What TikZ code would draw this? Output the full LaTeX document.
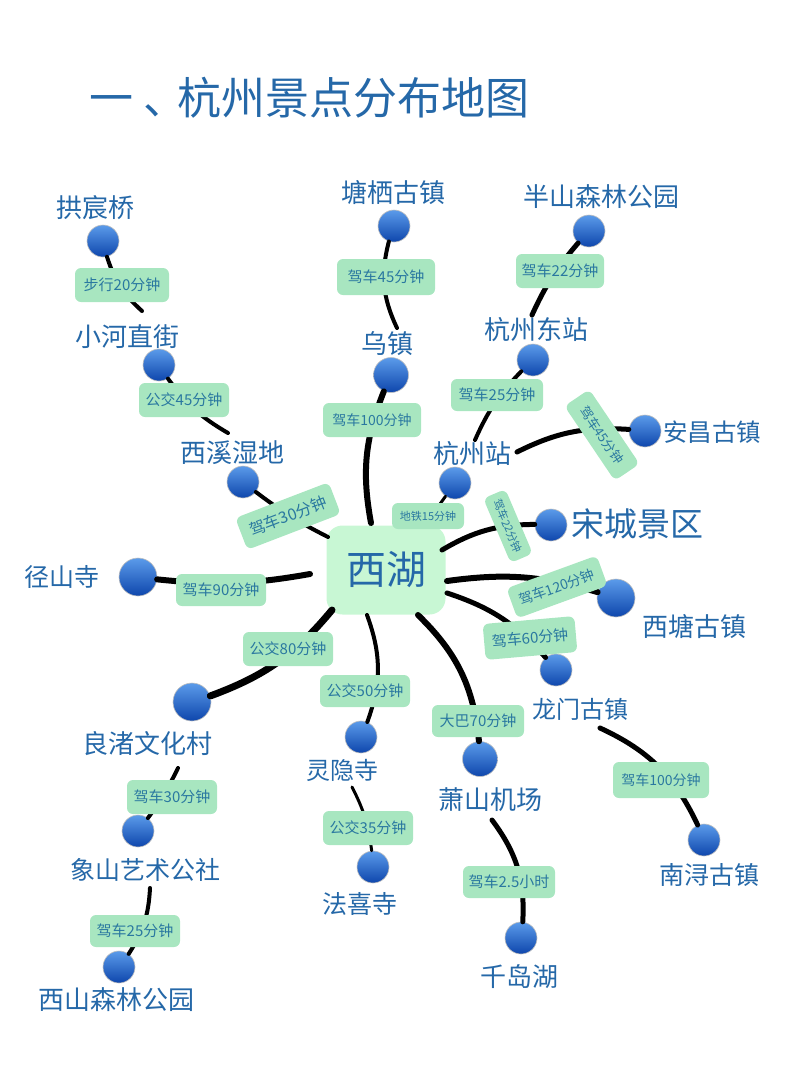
\documentclass[tikz,border=0pt]{standalone}
\usepackage{fontspec}
\setmainfont{Noto Sans CJK SC}
\definecolor{inkblue}{HTML}{2568A8}
\definecolor{boxgreen}{HTML}{A8E6C0}
\definecolor{hubgreen}{HTML}{C8F7D4}
\definecolor{boxink}{HTML}{2A78A0}
\definecolor{balltop}{HTML}{5B9BEA}
\definecolor{ballmid}{HTML}{1A62D6}
\definecolor{ballbot}{HTML}{0E46AC}
\tikzset{
  stop/.style={shape=circle,draw=black!25,line width=0.6pt,inner sep=0pt,minimum size=32pt,
    top color=balltop,middle color=ballmid,bottom color=ballbot},
  bigstop/.style={stop,minimum size=38pt},
  place/.style={font=\fontsize{26}{26}\selectfont,text=inkblue,inner sep=0pt},
  timebox/.style={shape=rectangle,rounded corners=6pt,fill=boxgreen,text=boxink,inner sep=0pt,
    minimum width=92pt,minimum height=34pt,font=\fontsize{15}{15}\selectfont},
  road/.style={draw=black,line width=5pt,line cap=round}
}
\begin{document}
\begin{tikzpicture}[x=1pt,y=-1pt]
    \useasboundingbox (0,0) rectangle (800,1066);
    \node[font=\fontsize{44}{44}\selectfont,text=inkblue,inner sep=0pt] (title) at (309.5,98) {一\hspace{10pt}、\hspace{-10pt}杭州景点分布地图};
    % centre
    \node[shape=rectangle,rounded corners=16pt,fill=hubgreen,text=inkblue,minimum width=119pt,minimum height=89pt,
      inner sep=0pt,font=\fontsize{40}{40}\selectfont] (hub) at (386,570) {西湖};
    % names
    \node[place] (gongchen label) at (95,208) {拱宸桥};
    \node[place] (xiaohe label) at (127,337) {小河直街};
    \node[place] (xixi label) at (232,453) {西溪湿地};
    \node[place] (tangqi label) at (393,193) {塘栖古镇};
    \node[place] (wuzhen label) at (387,344) {乌镇};
    \node[place] (banshan label) at (601,197) {半山森林公园};
    \node[place] (hzeast label) at (536,330) {杭州东站};
    \node[place] (hz label) at (472,454) {杭州站};
    \node[place,font=\fontsize{24.5}{25}\selectfont] (anchang label) at (712,432) {安昌古镇};
    \node[place,font=\fontsize{33}{33}\selectfont] (songcheng label) at (637,524) {宋城景区};
    \node[place] (xitang label) at (694,627) {西塘古镇};
    \node[place,font=\fontsize{24}{24}\selectfont] (longmen label) at (580,709) {龙门古镇};
    \node[place,font=\fontsize{25}{25}\selectfont] (nanxun label) at (709,875) {南浔古镇};
    \node[place] (xiaoshan label) at (490,800) {萧山机场};
    \node[place] (qiandao label) at (519,977) {千岛湖};
    \node[place,font=\fontsize{24}{24}\selectfont] (lingyin label) at (342,770) {灵隐寺};
    \node[place,font=\fontsize{25}{25}\selectfont] (faxi label) at (360,904) {法喜寺};
    \node[place] (liangzhu label) at (147,744) {良渚文化村};
    \node[place,font=\fontsize{25}{25}\selectfont] (xiangshan label) at (145,870) {象山艺术公社};
    \node[place] (xishan label) at (116,1000) {西山森林公园};
    \node[place,font=\fontsize{25}{25}\selectfont] (jingshan label) at (62,577) {径山寺};
    % stops
    \node[stop] (gongchen) at (103,241) {};
    \node[stop] (xiaohe) at (159,365) {};
    \node[stop] (xixi) at (243,482) {};
    \node[stop] (tangqi) at (394,226) {};
    \node[stop,minimum size=35pt] (wuzhen) at (391,375) {};
    \node[stop] (banshan) at (589,231) {};
    \node[stop] (hzeast) at (533,360) {};
    \node[stop] (hz) at (455,483) {};
    \node[stop] (anchang) at (645,431) {};
    \node[stop] (songcheng) at (551,525) {};
    \node[bigstop] (xitang) at (616,598) {};
    \node[stop] (longmen) at (556,670) {};
    \node[stop] (nanxun) at (704,840) {};
    \node[stop,minimum size=35pt] (xiaoshan) at (480,759) {};
    \node[stop] (qiandao) at (521,938) {};
    \node[stop] (lingyin) at (361,737) {};
    \node[stop] (faxi) at (373,867) {};
    \node[bigstop] (liangzhu) at (192,702) {};
    \node[stop] (xiangshan) at (138,831) {};
    \node[stop] (xishan) at (119,967) {};
    \node[bigstop] (jingshan) at (138,577) {};
    % free ends
    \coordinate (xiaohe end) at (142,311);
    \coordinate (xixi end) at (228,433);
    \coordinate (hub xixi) at (328,537);
    \coordinate (wuzhen end) at (397,328);
    \coordinate (hub wuzhen) at (371,523);
    \coordinate (hzeast end) at (532,315);
    \coordinate (hz end) at (475,440);
    \coordinate (hub hz) at (425,525);
    \coordinate (anchang end) at (517,452);
    \coordinate (hub songcheng) at (442,550);
    \coordinate (hub xitang) at (447,581);
    \coordinate (hub longmen) at (447,593);
    \coordinate (longmen end) at (600,728);
    \coordinate (hub xiaoshan) at (418,615);
    \coordinate (xiaoshan end) at (492,820);
    \coordinate (hub lingyin) at (367,615);
    \coordinate (lingyin end) at (352,787);
    \coordinate (hub liangzhu) at (332,610);
    \coordinate (liangzhu end) at (178,768);
    \coordinate (xiangshan end) at (150,888);
    \coordinate (hub jingshan) at (310,574);
    % roads
    \draw[road,line width=4pt] (gongchen) to[bend right=15] (xiaohe end);
    \draw[road,line width=4pt] (xiaohe) to[bend right=12] (xixi end);
    \draw[road,line width=4pt] (xixi) to[bend right=5] (hub xixi);
    \draw[road,line width=4pt] (tangqi) to[bend right=20] (wuzhen end);
    \draw[road,line width=6pt] (wuzhen) to[bend right=16] (hub wuzhen);
    \draw[road] (banshan) to[bend right=8] (hzeast end);
    \draw[road,line width=4pt] (hzeast) to[bend right=10] (hz end);
    \draw[road,line width=3pt] (hz) -- (hub hz);
    \draw[road] (anchang) to[bend right=15] (anchang end);
    \draw[road] (songcheng) to[bend right=15] (hub songcheng);
    \draw[road,line width=6pt] (xitang) to[bend right=12] (hub xitang);
    \draw[road] (longmen) to[bend right=15] (hub longmen);
    \draw[road] (nanxun) to[bend right=20] (longmen end);
    \draw[road,line width=6pt] (xiaoshan) to[bend right=20] (hub xiaoshan);
    \draw[road] (qiandao) to[bend right=20] (xiaoshan end);
    \draw[road,line width=4pt] (lingyin) to[bend right=20] (hub lingyin);
    \draw[road,line width=3pt] (faxi) to[bend right=10] (lingyin end);
    \draw[road,line width=7pt] (liangzhu) to[bend right=15] (hub liangzhu);
    \draw[road,line width=4pt] (xiangshan) to[bend right=5] (liangzhu end);
    \draw[road,line width=4pt] (xishan) to[bend right=15] (xiangshan end);
    \draw[road,line width=6pt] (jingshan) to[bend right=8] (hub jingshan);
    % times
    \node[timebox,minimum width=94pt] (walk20) at (122,285) {步行20分钟};
    \node[timebox,minimum width=90pt] (bus45) at (184,400) {公交45分钟};
    \node[timebox,minimum width=100pt,rotate=21,font=\fontsize{16}{16}\selectfont] (drive30) at (288,516) {驾车30分钟};
    \node[timebox,minimum width=98pt,minimum height=36pt] (drive45) at (386,277) {驾车45分钟};
    \node[timebox,minimum width=98pt,font=\fontsize{14}{14}\selectfont] (drive100) at (372,420) {驾车100分钟};
    \node[timebox,minimum width=88pt] (drive22) at (560,271) {驾车22分钟};
    \node[timebox,minimum height=32pt] (drive25) at (497,395) {驾车25分钟};
    \node[timebox,minimum width=72pt,minimum height=26pt,font=\fontsize{11}{11}\selectfont] (metro15) at (428,516) {地铁15分钟};
    \node[timebox,rotate=-56,minimum width=90pt,minimum height=30pt,font=\fontsize{13}{13}\selectfont] (driveanchang) at (602,435) {驾车45分钟};
    \node[timebox,rotate=-67,minimum width=70pt,minimum height=24pt,font=\fontsize{11}{11}\selectfont] (drivesong) at (508,526) {驾车22分钟};
    \node[timebox,rotate=20,minimum width=96pt,minimum height=32pt,font=\fontsize{14}{14}\selectfont] (drive120) at (557,587) {驾车120分钟};
    \node[timebox,rotate=5,minimum height=36pt] (drive60) at (530,638) {驾车60分钟};
    \node[timebox,minimum width=90pt,minimum height=32pt] (drive90) at (221,590) {驾车90分钟};
    \node[timebox,minimum width=90pt] (bus80) at (288,649) {公交80分钟};
    \node[timebox,minimum width=90pt,minimum height=32pt] (bus50) at (365,691) {公交50分钟};
    \node[timebox,minimum height=32pt] (coach70) at (478,721) {大巴70分钟};
    \node[timebox,minimum width=96pt,minimum height=36pt,font=\fontsize{14}{14}\selectfont] (drive100b) at (661,780) {驾车100分钟};
    \node[timebox,minimum width=90pt] (drive30b) at (172,797) {驾车30分钟};
    \node[timebox,minimum width=90pt] (bus35) at (368,828) {公交35分钟};
    \node[timebox,minimum width=90pt,minimum height=32pt] (drive25b) at (135,931) {驾车25分钟};
    \node[timebox,minimum height=32pt] (drive25h) at (509,882) {驾车2.5小时};
\end{tikzpicture}
\end{document}
